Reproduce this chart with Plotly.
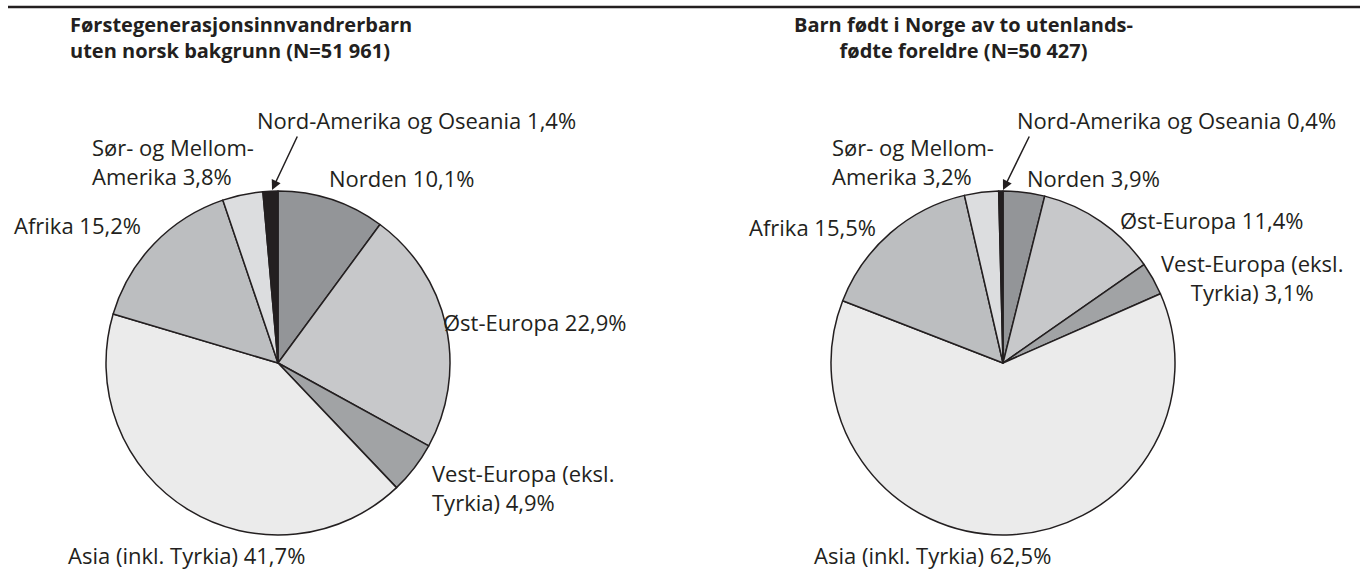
import plotly.graph_objects as go

W, H = 1369, 571

categories = ["Norden", "Øst-Europa", "Vest-Europa (eksl.<br>Tyrkia)", "Asia (inkl. Tyrkia)",
              "Afrika", "Sør- og Mellom-<br>Amerika", "Nord-Amerika og Oseania"]
values_first_gen = [10.1, 22.9, 4.9, 41.7, 15.2, 3.8, 1.4]
values_born_norway = [3.9, 11.4, 3.1, 62.5, 15.5, 3.2, 0.4]
colors = ["#939598", "#c7c8ca", "#a1a3a5", "#ebebeb", "#bcbec0", "#dcdddf", "#231f20"]
title_first_gen = ["Førstegenerasjonsinnvandrerbarn", "uten norsk bakgrunn (N=51 961)"]
title_born_norway = ["Barn født i Norge av to utenlands-", "fødte foreldre (N=50 427)"]

FONT = "Open Sans"
LABEL_SIZE = 22
TXT = "#231f20"

def px(x):
    return x / W

def py(y):
    return 1 - y / H

def fmt(v):
    return f"{v:.1f}".replace(".", ",") + "%"

R = 172
centers = [(278, 363), (1003, 363)]

fig = go.Figure()
for (cx, cy), vals in zip(centers, [values_first_gen, values_born_norway]):
    fig.add_trace(go.Pie(
        labels=[c.replace("<br>", " ") for c in categories],
        values=vals,
        sort=False,
        direction="clockwise",
        rotation=0,
        marker=dict(colors=colors, line=dict(color="#231f20", width=1.5)),
        textinfo="none",
        hoverinfo="label+percent",
        showlegend=False,
        domain=dict(x=[px(cx - R), px(cx + R)], y=[py(cy + R), py(cy - R)]),
    ))

annotations = []

def lab(i, vals, x, y, xanchor="left", align="left"):
    annotations.append(dict(
        text=f"{categories[i]} {fmt(vals[i])}", x=px(x), y=py(y), xref="paper", yref="paper",
        xanchor=xanchor, yanchor="middle", align=align, showarrow=False,
        font=dict(family=FONT, size=LABEL_SIZE, color=TXT)))

# Pie 1 labels
v = values_first_gen
lab(6, v, 255, 120)
lab(5, v, 90, 162)
lab(0, v, 327, 178)
lab(4, v, 12, 225)
lab(1, v, 441, 322)
lab(2, v, 430, 487)
lab(3, v, 186, 555, xanchor="center")
# Pie 2 labels
v = values_born_norway
lab(6, v, 1015, 120)
lab(5, v, 830, 162)
lab(0, v, 1025, 178)
lab(4, v, 878, 227, xanchor="right")
lab(1, v, 1118, 220)
lab(2, v, 1252, 277, xanchor="center", align="center")
lab(3, v, 932, 555, xanchor="center")

# arrows for the thin slices
for (x0, y0, x1, y1) in [(298, 135, 272, 190), (1030, 135, 1003, 190)]:
    annotations.append(dict(
        x=px(x1), y=py(y1), ax=x0 - x1, ay=y0 - y1, xref="paper", yref="paper",
        axref="pixel", ayref="pixel", text="", showarrow=True,
        arrowhead=2, arrowsize=1.3, arrowwidth=1.5, arrowcolor=TXT))

# titles
for lines, x, xanchor, align in [(title_first_gen, 68, "left", "left"),
                                 (title_born_norway, 963, "center", "center")]:
    annotations.append(dict(
        text="<br>".join(f"<b>{l}</b>" for l in lines), x=px(x), y=py(37.5),
        xref="paper", yref="paper", xanchor=xanchor, yanchor="middle", align=align,
        showarrow=False, font=dict(family=FONT, size=20, color="#231f20")))

fig.update_layout(
    width=W, height=H,
    margin=dict(l=0, r=0, t=0, b=0),
    paper_bgcolor="white", plot_bgcolor="white",
    annotations=annotations,
    shapes=[dict(type="line", xref="paper", yref="paper",
                 x0=px(8), x1=px(1360), y0=py(7), y1=py(7),
                 line=dict(color="#231f20", width=2.5))],
)

fig.write_html("out.html", config={"displayModeBar": False},
               post_script="document.body.style.margin='0';")
